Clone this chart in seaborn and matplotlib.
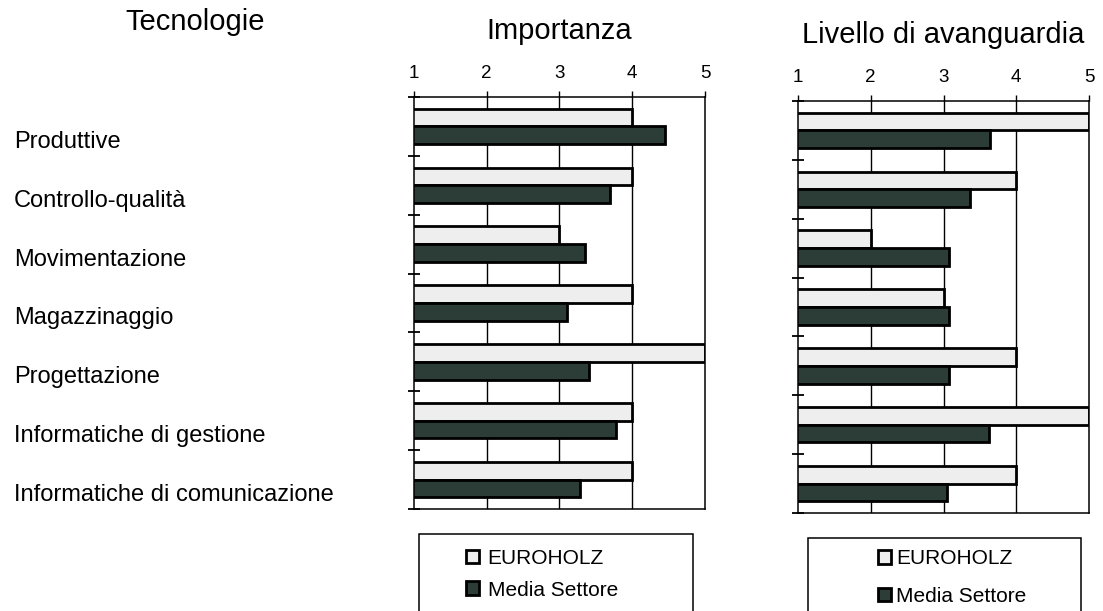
import numpy as np
import pandas as pd
import matplotlib
matplotlib.use("Agg")
import matplotlib.pyplot as plt
from matplotlib.patches import Patch, Rectangle
import seaborn as sns

# ---- data -------------------------------------------------------------
categorie = [
    "Produttive",
    "Controllo-qualità",
    "Movimentazione",
    "Magazzinaggio",
    "Progettazione",
    "Informatiche di gestione",
    "Informatiche di comunicazione",
]
serie = ["EUROHOLZ", "Media Settore"]

importanza_euroholz = [4.0, 4.0, 3.0, 4.0, 5.0, 4.0, 4.0]
importanza_media = [4.45, 3.70, 3.35, 3.10, 3.40, 3.77, 3.28]

avanguardia_euroholz = [5.0, 4.0, 2.0, 3.0, 4.0, 5.0, 4.0]
avanguardia_media = [3.64, 3.37, 3.07, 3.07, 3.07, 3.62, 3.05]

scala = [1, 2, 3, 4, 5]

# ---- styling ----------------------------------------------------------
sns.set_style("white")
plt.rcParams["font.family"] = ["Liberation Sans", "DejaVu Sans"]
for chiave in ("text.color", "axes.labelcolor", "xtick.color", "ytick.color"):
    plt.rcParams[chiave] = "black"

colori = {"EUROHOLZ": "#eeeeee", "Media Settore": "#2c3d37"}
bordo = 2.0


def long_table(v_euro, v_media):
    return pd.DataFrame({
        "Tecnologia": categorie * 2,
        "Serie": [serie[0]] * len(categorie) + [serie[1]] * len(categorie),
        "Valore": list(v_euro) + list(v_media),
    })


fig = plt.figure(figsize=(11.03, 6.11), dpi=100)
W, H = 1103, 611


def px_axes(x0, x1, ytop, ybot):
    return fig.add_axes([x0 / W, 1 - ybot / H, (x1 - x0) / W, (ybot - ytop) / H])


ax1 = px_axes(414, 705, 97, 509)
ax2 = px_axes(798, 1089, 101, 513)

pannelli = [
    (ax1, long_table(importanza_euroholz, importanza_media), "Importanza"),
    (ax2, long_table(avanguardia_euroholz, avanguardia_media), "Livello di avanguardia"),
]

for ax, df, titolo in pannelli:
    sns.barplot(
        data=df, x="Valore", y="Tecnologia", hue="Serie", hue_order=serie,
        palette=colori, orient="h", width=0.6, errorbar=None,
        edgecolor="black", linewidth=bordo, saturation=1, legend=False, ax=ax,
    )
    ax.set_xlim(1, 5)
    ax.set_ylim(len(categorie) - 0.5, -0.5)
    ax.set_xlabel("")
    ax.set_ylabel("")

    # scale on top, vertical reference lines at the inner values
    ax.xaxis.tick_top()
    ax.set_xticks(scala)
    ax.set_xticklabels([str(v) for v in scala], fontsize=13.5)
    ax.tick_params(axis="x", direction="out", length=4, width=1.0, pad=7,
                   colors="black")
    for v in scala[1:-1]:
        ax.axvline(v, color="black", lw=1.0, zorder=0)

    for s in ax.spines.values():
        s.set_visible(True)
        s.set_color("black")
        s.set_linewidth(1.1)

    ax.set_title(titolo, fontsize=21, y=1.14, pad=0, va="baseline",
                 color="black")

# category names on the left panel only, left-aligned at the page margin
ax1.set_yticks(np.arange(len(categorie)) + 0.22, labels=categorie)
ax1.tick_params(axis="y", which="major", length=0, pad=288, labelsize=17)
for lab in ax1.get_yticklabels():
    lab.set_horizontalalignment("left")
ax2.set_yticks([])

# small marks between the groups
for ax in (ax1, ax2):
    ax.set_yticks(np.arange(len(categorie) + 1) - 0.5, minor=True)
    ax.tick_params(axis="y", which="minor", direction="inout", length=9,
                   width=1.3, left=True, color="black")

fig.text(195 / W, 1 - 30 / H, "Tecnologie", fontsize=21, ha="center",
         va="baseline", color="black")

# legends with an outlined box below each panel
maniglie = [Patch(facecolor=colori[s], edgecolor="black", linewidth=bordo,
                  label=s) for s in serie]

legende = [
    (ax1, (0.44, -0.158), 0.017, 0.959, -0.061, 0.62, 0.4),
    (ax2, (0.529, -0.157), 0.034, 0.973, -0.061, 0.9, 0.25),
]
for ax, centro, xa, xb, ytop, spazio, pad_testo in legende:
    leg = ax.legend(handles=maniglie, loc="center", bbox_to_anchor=centro,
                    frameon=False, fontsize=15, handlelength=0.62,
                    handleheight=0.62, handletextpad=pad_testo,
                    labelspacing=spazio, borderaxespad=0)
    for t in leg.get_texts():
        t.set_color("black")
    ax.add_patch(Rectangle((xa, ytop - 0.4), xb - xa, 0.4,
                           transform=ax.transAxes, fill=False,
                           edgecolor="black", linewidth=1.1, clip_on=False))

fig.savefig("out.png", dpi=100)
